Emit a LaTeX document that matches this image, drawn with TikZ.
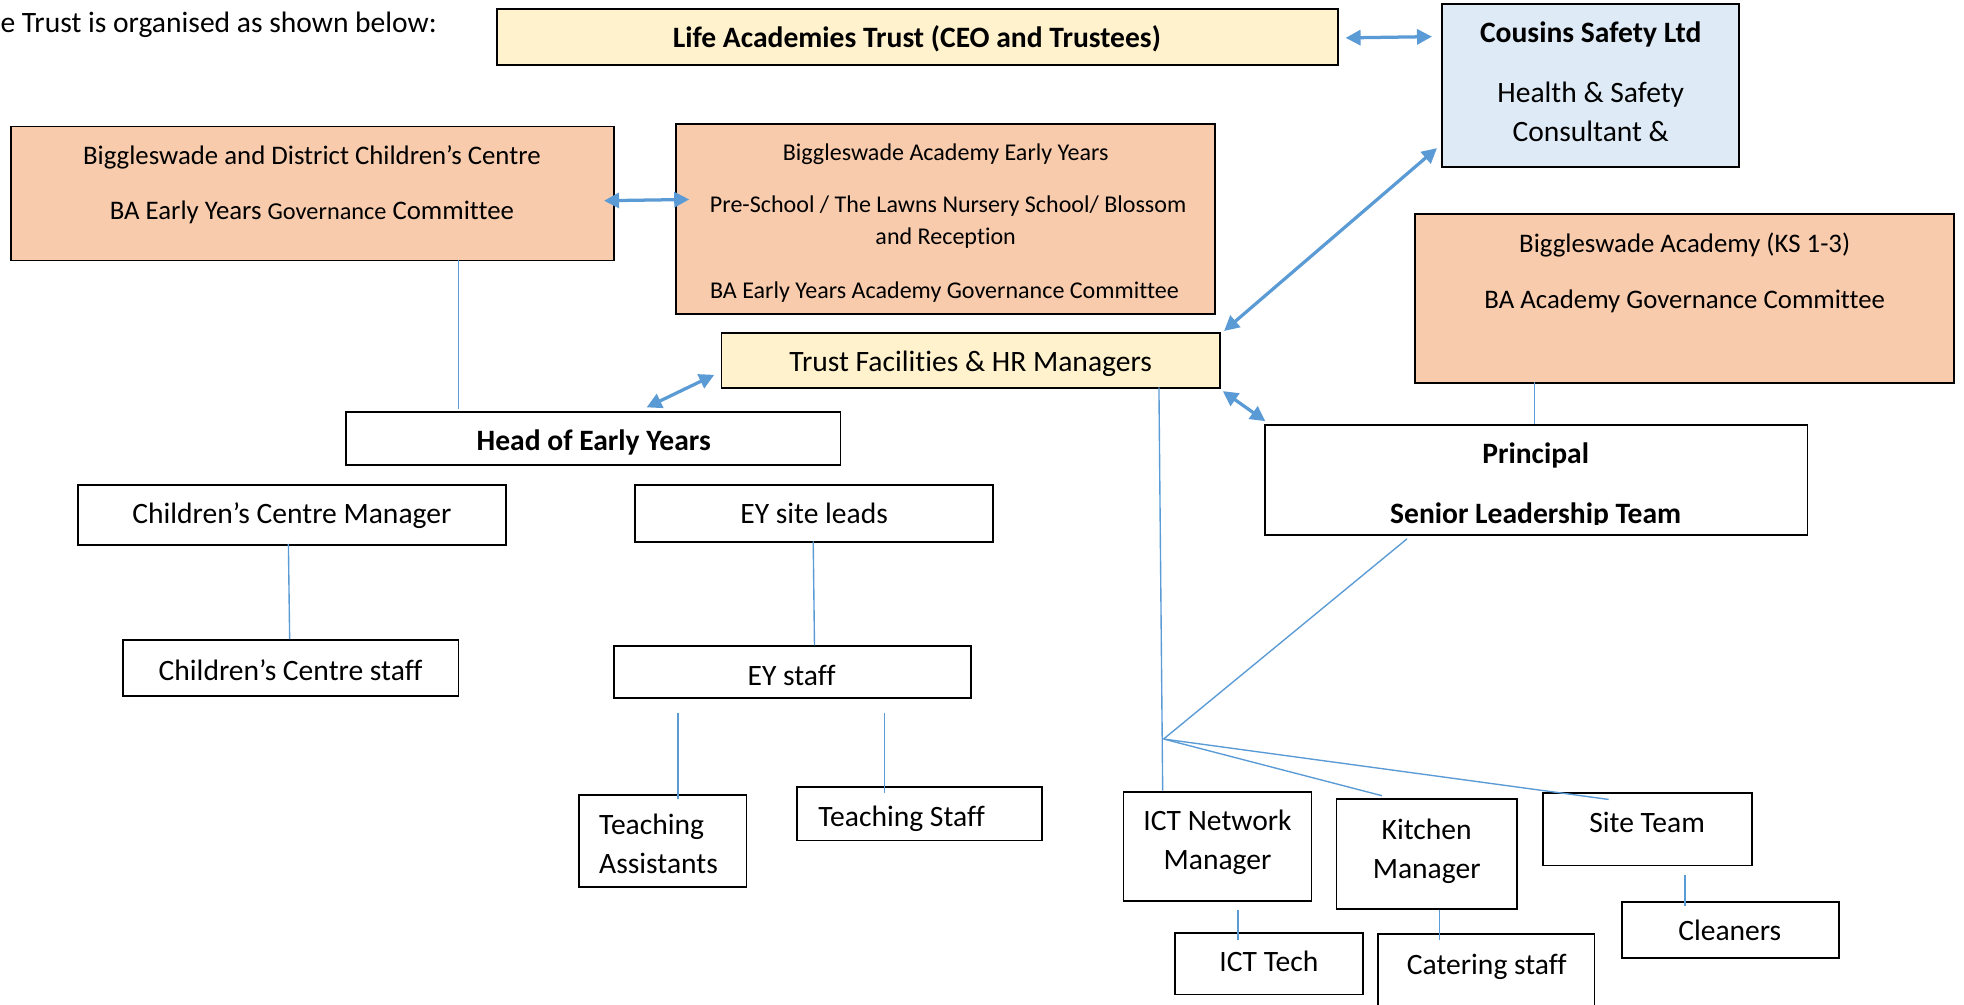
\documentclass[tikz,border=0pt]{standalone}
\usepackage{fontspec}
\setmainfont{Carlito}[Ligatures=CommonOff]
\usetikzlibrary{arrows.meta,fit,calc}
\definecolor{lnblue}{HTML}{5B9BD5}
\definecolor{yel}{HTML}{FFF2CC}
\definecolor{pblue}{HTML}{DEEBF7}
\definecolor{peach}{HTML}{F8CBAD}
\begin{document}
\begin{tikzpicture}[x=0.5pt,y=-0.5pt,
  box/.style={draw=black,line width=0.75pt,inner sep=0pt},
  txt/.style={inner sep=0pt,anchor=mid,yshift=-1.6pt},
  f11/.style={font=\fontsize{11.8}{14}\selectfont},
  f11b/.style={font=\fontsize{11.8}{14}\selectfont\bfseries},
  f12/.style={font=\fontsize{11.8}{14}\selectfont},
  f12b/.style={font=\fontsize{11.8}{14}\selectfont\bfseries},
  f10/.style={font=\fontsize{10.7}{13}\selectfont},
  f9/.style={font=\fontsize{9.6}{11.5}\selectfont},
  conn/.style={draw=lnblue,line width=0.55pt},
  dbl/.style={draw=lnblue,line width=1.3pt,{Triangle[length=6pt,width=6pt]}-{Triangle[length=6pt,width=6pt]}}]
\useasboundingbox (0,0) rectangle (1568,802);

% header
\node[txt,f11,anchor=mid west] (hdr) at (0,18) {e Trust is organised as shown below:};

% boxes
\node[box,fill=yel,fit={(397,7) (1068,52)}] (life) {};
\node[box,fill=pblue,fit={(1151,3) (1388,133)}] (cousins) {};
\node[box,fill=peach,fit={(9,101) (490,208)}] (bdcc) {};
\node[box,fill=peach,fit={(540,99) (970,251)}] (baey) {};
\node[box,fill=yel,fit={(576,266) (974,310)}] (tfhr) {};
\node[box,fill=peach,fit={(1130,171) (1560,306)}] (ks) {};
\node[box,fit={(276,329) (671,371)}] (hey) {};
\node[box,fit={(1010,339) (1443,427)}] (princ) {};
\node[box,fit={(62,387) (404,435)}] (ccm) {};
\node[box,fit={(507,387) (793,433)}] (eysl) {};
\node[box,fit={(98,511) (366,556)}] (ccs) {};
\node[box,fit={(490,516) (775,557)}] (eys) {};
\node[box,fit={(462,635) (596,708)}] (ta) {};
\node[box,fit={(636,628) (832,671)}] (ts) {};
\node[box,fit={(897,632) (1047,719)}] (ictm) {};
\node[box,fit={(1067,638) (1211,726)}] (kit) {};
\node[box,fit={(1232,633) (1399,691)}] (site) {};
\node[box,fit={(1295,720) (1468,765)}] (clean) {};
\node[box,fit={(938,745) (1088,794)}] (ictt) {};
\node[box,fit={(1100,746) (1273,830)}] (cat) {};

% texts
\node[txt,f11b] (t1) at (732,30) {Life Academies Trust (CEO and Trustees)};
\node[txt,f12b] (t2) at (1270,26) {Cousins Safety Ltd};
\node[txt,f12] (t3) at (1270,74) {Health \& Safety};
\node[txt,f12] (t4) at (1270,105) {Consultant \&};
\node[txt,f10] (t5) at (249,123) {Biggleswade and District Children’s Centre};
\node[txt,f10] (t6) at (249,167) {BA Early Years {\fontsize{9.7}{11}\selectfont Governance} Committee};
\node[txt,f9] (t7) at (755,120) {Biggleswade Academy Early Years};
\node[txt,f9] (t8) at (757,162) {Pre-School / The Lawns Nursery School/ Blossom};
\node[txt,f9] (t9) at (755,187) {and Reception};
\node[txt,f9] (t10) at (754,230) {BA Early Years Academy Governance Committee};
\node[txt,f11] (t11) at (775,289) {Trust Facilities \& HR Managers};
\node[txt,f10] (t12) at (1345,194) {Biggleswade Academy (KS 1-3)};
\node[txt,f10] (t13) at (1345,238) {BA Academy Governance Committee};
\node[txt,f11b] (t14) at (474,352) {Head of Early Years};
\node[txt,f11b] (t15) at (1226,362) {Principal};
\begin{scope}
\clip (1010,339) rectangle (1443,419);
\node[txt,f11b] (t16) at (1226,410) {Senior Leadership Team};
\end{scope}
\node[txt,f11] (t17) at (233,410) {Children’s Centre Manager};
\node[txt,f11] (t18) at (650,410) {EY site leads};
\node[txt,f11] (t19) at (232,535) {Children’s Centre staff};
\node[txt,f11] (t20) at (632,539) {EY staff};
\node[txt,f11,anchor=mid west] (t21) at (478,658) {Teaching};
\node[txt,f11,anchor=mid west] (t22) at (478,689) {Assistants};
\node[txt,f11,anchor=mid west] (t23) at (653,652) {Teaching Staff};
\node[txt,f11] (t24) at (972,655) {ICT Network};
\node[txt,f11] (t25) at (972,686) {Manager};
\node[txt,f11] (t26) at (1139,662) {Kitchen};
\node[txt,f11] (t27) at (1139,693) {Manager};
\node[txt,f11] (t28) at (1315,657) {Site Team};
\node[txt,f11] (t29) at (1381,743) {Cleaners};
\node[txt,f11] (t30) at (1013,768) {ICT Tech};
\node[txt,f11] (t31) at (1187,770) {Catering staff};

% junction
\coordinate (j) at (929,590);

% double arrows
\draw[dbl] ($(life.north west)+(678,24)$) -- ($(cousins.north west)+(-7,27)$);
\draw[dbl] ($(bdcc.north west)+(474,60)$) -- ($(baey.north west)+(11,61)$);
\draw[dbl] ($(cousins.north west)+(-3,116)$) -- ($(tfhr.north west)+(402,-1)$);
\draw[dbl] ($(tfhr.north west)+(-5,34)$) -- ($(hey.north west)+(241,-3)$);
\draw[dbl] ($(tfhr.north west)+(401,47)$) -- ($(princ.north west)+(1,-2)$);

% thin lines
\draw[conn] ($(bdcc.north west)+(358,107)$) -- ($(hey.north west)+(91,-2)$);
\draw[conn] ($(ks.north west)+(96,135)$) -- ($(princ.north west)+(216,0)$);
\draw[conn] ($(tfhr.north west)+(350,44)$) -- ($(ictm.north west)+(32,0)$);
\draw[conn] ($(princ.north west)+(114,92)$) -- (j);
\draw[conn] (j) -- ($(kit.north west)+(37,-2)$);
\draw[conn] (j) -- ($(site.north west)+(53,6)$);
\draw[conn] ($(ccm.north west)+(169,48)$) -- ($(ccs.north west)+(134,0)$);
\draw[conn] ($(eysl.north west)+(143,46)$) -- ($(eys.north west)+(161,0)$);
\draw[conn] ($(eys.north west)+(52,54)$) -- ($(ta.north west)+(80,4)$);
\draw[conn] ($(eys.north west)+(217,54)$) -- ($(ts.north west)+(71,6)$);
\draw[conn] ($(ictm.north west)+(92,95)$) -- ($(ictt.north west)+(51,6)$);
\draw[conn] ($(kit.north west)+(83,89)$) -- ($(cat.north west)+(50,5)$);
\draw[conn] ($(site.north west)+(114,66)$) -- ($(clean.north west)+(51,4)$);
\end{tikzpicture}
\end{document}
